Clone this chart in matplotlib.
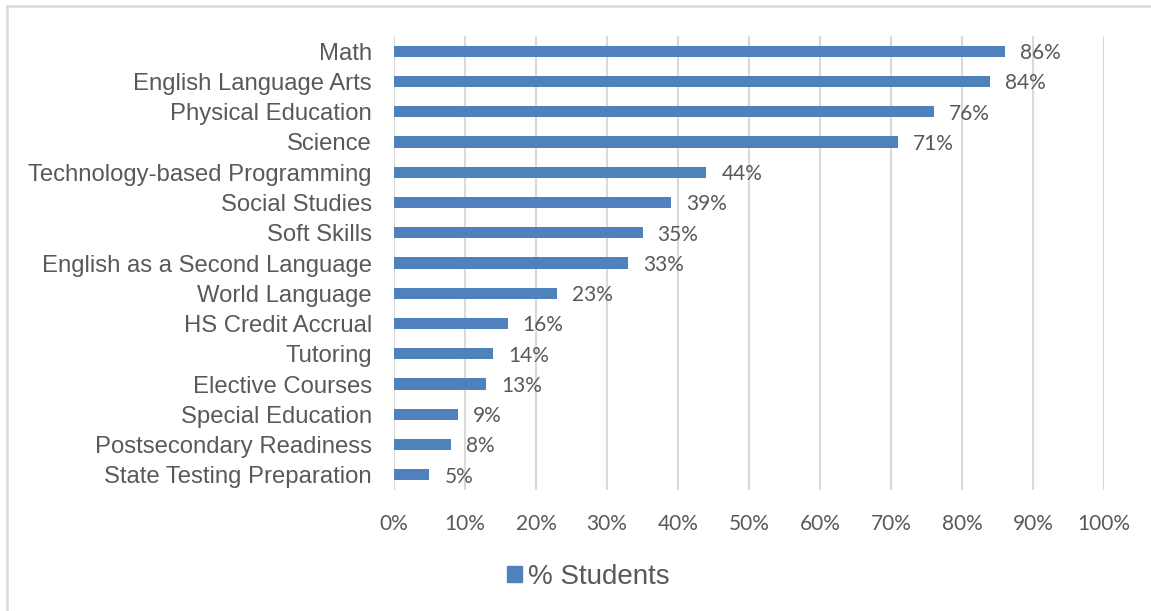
import matplotlib.pyplot as plt
from matplotlib.patches import Rectangle

categories = ['Math', 'English Language Arts', 'Physical Education', 'Science',
              'Technology-based Programming', 'Social Studies', 'Soft Skills',
              'English as a Second Language', 'World Language', 'HS Credit Accrual',
              'Tutoring', 'Elective Courses', 'Special Education',
              'Postsecondary Readiness', 'State Testing Preparation']
values = [86, 84, 76, 71, 44, 39, 35, 33, 23, 16, 14, 13, 9, 8, 5]
ticks = list(range(0, 101, 10))
series_name = '% Students'

BLUE = '#4f81bd'
GRID = '#d9d9d9'
TEXT = '#595959'

fig = plt.figure(figsize=(11.51, 6.11), dpi=100)
# outer chart frame, right and bottom edges run past the canvas
fig.patches.append(Rectangle((0.0065, -0.05), 1.1, 1.05 - 0.0095, transform=fig.transFigure,
                             fill=False, edgecolor=GRID, linewidth=1.8))
ax = fig.add_axes([0.3423, 0.198, 0.6169, 0.743])

pos = list(range(len(categories)))
ax.barh(pos, values, height=0.37, color=BLUE, zorder=3)
for p, v in zip(pos, values):
    ax.text(v + 2.1, p + 0.06, f'{v}%', va='center', ha='left', fontsize=15,
            family='Lato', color=TEXT)

ax.set_ylim(len(categories) - 0.5, -0.5)
ax.set_xlim(0, 100)
ax.set_yticks(pos)
ax.set_yticklabels(categories, fontsize=17.2, family='Liberation Sans', color=TEXT)
ax.set_xticks(ticks)
ax.set_xticklabels([f'{t}%' for t in ticks], fontsize=15, family='Lato', color=TEXT)
ax.tick_params(length=0)
ax.tick_params(axis='x', pad=17)
ax.tick_params(axis='y', pad=16)
ax.xaxis.grid(True, color=GRID, linewidth=1.5, zorder=0)
for s in ax.spines.values():
    s.set_visible(False)

fig.legend(handles=[Rectangle((0, 0), 1, 1, color=BLUE)], labels=[series_name],
           loc='center', bbox_to_anchor=(0.511, 0.056), frameon=False,
           prop={'family': 'Liberation Sans', 'size': 20}, labelcolor=TEXT,
           handlelength=0.54, handleheight=0.54, handletextpad=0.22)

fig.savefig('out.png', dpi=100)
